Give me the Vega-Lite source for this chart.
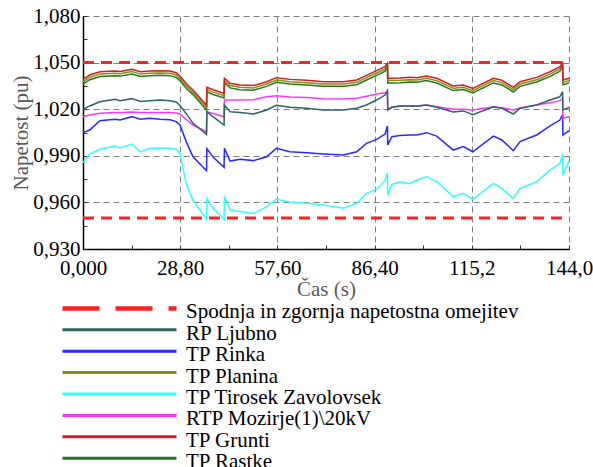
{
  "$schema": "https://vega.github.io/schema/vega-lite/v6.json",
  "width": 486,
  "height": 233,
  "autosize": {"type": "none"},
  "padding": {"left": 83, "top": 16, "right": 24, "bottom": 218},
  "background": "white",
  "config": {
    "view": {"stroke": null},
    "font": "Liberation Serif",
    "axis": {"labelFont": "Liberation Serif", "titleFont": "Liberation Serif"},
    "legend": {"labelFont": "Liberation Serif"}
  },
  "datasets": {
    "lim": [
      {"s": "Spodnja in zgornja napetostna omejitev", "g": "hi", "t": 0, "v": 1.05},
      {"s": "Spodnja in zgornja napetostna omejitev", "g": "hi", "t": 144, "v": 1.05},
      {"s": "Spodnja in zgornja napetostna omejitev", "g": "lo", "t": 0, "v": 0.95},
      {"s": "Spodnja in zgornja napetostna omejitev", "g": "lo", "t": 144, "v": 0.95}
    ],
    "ser": [
      {"s": "TP Tirosek Zavolovsek", "t": 0, "v": 0.9856},
      {"s": "TP Tirosek Zavolovsek", "t": 2, "v": 0.9912},
      {"s": "TP Tirosek Zavolovsek", "t": 5, "v": 0.9942},
      {"s": "TP Tirosek Zavolovsek", "t": 9.5, "v": 0.9963},
      {"s": "TP Tirosek Zavolovsek", "t": 11, "v": 0.995},
      {"s": "TP Tirosek Zavolovsek", "t": 14.5, "v": 0.9976},
      {"s": "TP Tirosek Zavolovsek", "t": 17, "v": 0.9925},
      {"s": "TP Tirosek Zavolovsek", "t": 19.8, "v": 0.9949},
      {"s": "TP Tirosek Zavolovsek", "t": 22.8, "v": 0.995},
      {"s": "TP Tirosek Zavolovsek", "t": 25.8, "v": 0.9949},
      {"s": "TP Tirosek Zavolovsek", "t": 27.6, "v": 0.9942},
      {"s": "TP Tirosek Zavolovsek", "t": 28.7, "v": 0.9916},
      {"s": "TP Tirosek Zavolovsek", "t": 30.7, "v": 0.971},
      {"s": "TP Tirosek Zavolovsek", "t": 32.6, "v": 0.9615},
      {"s": "TP Tirosek Zavolovsek", "t": 36.6, "v": 0.9491},
      {"s": "TP Tirosek Zavolovsek", "t": 36.7, "v": 0.9626},
      {"s": "TP Tirosek Zavolovsek", "t": 38.6, "v": 0.9562},
      {"s": "TP Tirosek Zavolovsek", "t": 41.8, "v": 0.9491},
      {"s": "TP Tirosek Zavolovsek", "t": 41.9, "v": 0.9637},
      {"s": "TP Tirosek Zavolovsek", "t": 43.6, "v": 0.9551},
      {"s": "TP Tirosek Zavolovsek", "t": 46.5, "v": 0.9541},
      {"s": "TP Tirosek Zavolovsek", "t": 50.5, "v": 0.9528},
      {"s": "TP Tirosek Zavolovsek", "t": 54.4, "v": 0.9573},
      {"s": "TP Tirosek Zavolovsek", "t": 57.3, "v": 0.9622},
      {"s": "TP Tirosek Zavolovsek", "t": 61.3, "v": 0.9602},
      {"s": "TP Tirosek Zavolovsek", "t": 66.3, "v": 0.9595},
      {"s": "TP Tirosek Zavolovsek", "t": 71.2, "v": 0.9583},
      {"s": "TP Tirosek Zavolovsek", "t": 77.1, "v": 0.9562},
      {"s": "TP Tirosek Zavolovsek", "t": 81.1, "v": 0.9594},
      {"s": "TP Tirosek Zavolovsek", "t": 84, "v": 0.9658},
      {"s": "TP Tirosek Zavolovsek", "t": 87, "v": 0.9685},
      {"s": "TP Tirosek Zavolovsek", "t": 89.5, "v": 0.974},
      {"s": "TP Tirosek Zavolovsek", "t": 90.2, "v": 0.9791},
      {"s": "TP Tirosek Zavolovsek", "t": 90.3, "v": 0.9648},
      {"s": "TP Tirosek Zavolovsek", "t": 91.5, "v": 0.9715},
      {"s": "TP Tirosek Zavolovsek", "t": 93.9, "v": 0.9733},
      {"s": "TP Tirosek Zavolovsek", "t": 96.9, "v": 0.972},
      {"s": "TP Tirosek Zavolovsek", "t": 98.9, "v": 0.9744},
      {"s": "TP Tirosek Zavolovsek", "t": 101.8, "v": 0.9765},
      {"s": "TP Tirosek Zavolovsek", "t": 104.8, "v": 0.9733},
      {"s": "TP Tirosek Zavolovsek", "t": 109.7, "v": 0.9637},
      {"s": "TP Tirosek Zavolovsek", "t": 112.7, "v": 0.9658},
      {"s": "TP Tirosek Zavolovsek", "t": 115.5, "v": 0.962},
      {"s": "TP Tirosek Zavolovsek", "t": 121.6, "v": 0.9723},
      {"s": "TP Tirosek Zavolovsek", "t": 124.1, "v": 0.969},
      {"s": "TP Tirosek Zavolovsek", "t": 127.5, "v": 0.9626},
      {"s": "TP Tirosek Zavolovsek", "t": 129.5, "v": 0.969},
      {"s": "TP Tirosek Zavolovsek", "t": 134.4, "v": 0.9733},
      {"s": "TP Tirosek Zavolovsek", "t": 138.4, "v": 0.9809},
      {"s": "TP Tirosek Zavolovsek", "t": 141.3, "v": 0.9852},
      {"s": "TP Tirosek Zavolovsek", "t": 142.1, "v": 0.9912},
      {"s": "TP Tirosek Zavolovsek", "t": 142.2, "v": 0.9776},
      {"s": "TP Tirosek Zavolovsek", "t": 144, "v": 0.9868},

      {"s": "TP Rinka", "t": 0, "v": 1.0049},
      {"s": "TP Rinka", "t": 2, "v": 1.0066},
      {"s": "TP Rinka", "t": 5, "v": 1.0126},
      {"s": "TP Rinka", "t": 9.5, "v": 1.0135},
      {"s": "TP Rinka", "t": 11, "v": 1.013},
      {"s": "TP Rinka", "t": 14.5, "v": 1.0152},
      {"s": "TP Rinka", "t": 17, "v": 1.0135},
      {"s": "TP Rinka", "t": 19.8, "v": 1.0141},
      {"s": "TP Rinka", "t": 22.8, "v": 1.0135},
      {"s": "TP Rinka", "t": 25.8, "v": 1.0132},
      {"s": "TP Rinka", "t": 27.6, "v": 1.012},
      {"s": "TP Rinka", "t": 28.7, "v": 1.01},
      {"s": "TP Rinka", "t": 30.7, "v": 0.9985},
      {"s": "TP Rinka", "t": 32.6, "v": 0.9894},
      {"s": "TP Rinka", "t": 36.6, "v": 0.9804},
      {"s": "TP Rinka", "t": 36.7, "v": 0.9945},
      {"s": "TP Rinka", "t": 38.6, "v": 0.989},
      {"s": "TP Rinka", "t": 41.8, "v": 0.9826},
      {"s": "TP Rinka", "t": 41.9, "v": 0.9948},
      {"s": "TP Rinka", "t": 43.6, "v": 0.9866},
      {"s": "TP Rinka", "t": 46.5, "v": 0.9877},
      {"s": "TP Rinka", "t": 50.5, "v": 0.9869},
      {"s": "TP Rinka", "t": 54.4, "v": 0.9894},
      {"s": "TP Rinka", "t": 57.3, "v": 0.9948},
      {"s": "TP Rinka", "t": 61.3, "v": 0.9926},
      {"s": "TP Rinka", "t": 66.3, "v": 0.992},
      {"s": "TP Rinka", "t": 71.2, "v": 0.9912},
      {"s": "TP Rinka", "t": 77.1, "v": 0.9905},
      {"s": "TP Rinka", "t": 81.1, "v": 0.9926},
      {"s": "TP Rinka", "t": 84, "v": 0.998},
      {"s": "TP Rinka", "t": 87, "v": 1.0006},
      {"s": "TP Rinka", "t": 89.5, "v": 1.004},
      {"s": "TP Rinka", "t": 90.2, "v": 1.0092},
      {"s": "TP Rinka", "t": 90.3, "v": 0.997},
      {"s": "TP Rinka", "t": 91.5, "v": 1.0023},
      {"s": "TP Rinka", "t": 93.9, "v": 1.003},
      {"s": "TP Rinka", "t": 96.9, "v": 1.0034},
      {"s": "TP Rinka", "t": 98.9, "v": 1.0034},
      {"s": "TP Rinka", "t": 101.8, "v": 1.0049},
      {"s": "TP Rinka", "t": 104.8, "v": 1.0027},
      {"s": "TP Rinka", "t": 109.7, "v": 0.9937},
      {"s": "TP Rinka", "t": 112.7, "v": 0.9959},
      {"s": "TP Rinka", "t": 115.5, "v": 0.9926},
      {"s": "TP Rinka", "t": 121.6, "v": 1.0027},
      {"s": "TP Rinka", "t": 124.1, "v": 1.0002},
      {"s": "TP Rinka", "t": 127.5, "v": 0.9933},
      {"s": "TP Rinka", "t": 129.5, "v": 0.9991},
      {"s": "TP Rinka", "t": 134.4, "v": 1.0034},
      {"s": "TP Rinka", "t": 138.4, "v": 1.0092},
      {"s": "TP Rinka", "t": 141.3, "v": 1.013},
      {"s": "TP Rinka", "t": 142.1, "v": 1.0165},
      {"s": "TP Rinka", "t": 142.2, "v": 1.0034},
      {"s": "TP Rinka", "t": 144, "v": 1.0062},

      {"s": "RTP Mozirje(1)\\20kV", "t": 0, "v": 1.0152},
      {"s": "RTP Mozirje(1)\\20kV", "t": 2, "v": 1.0163},
      {"s": "RTP Mozirje(1)\\20kV", "t": 5, "v": 1.0174},
      {"s": "RTP Mozirje(1)\\20kV", "t": 9.5, "v": 1.0178},
      {"s": "RTP Mozirje(1)\\20kV", "t": 11, "v": 1.0178},
      {"s": "RTP Mozirje(1)\\20kV", "t": 14.5, "v": 1.0182},
      {"s": "RTP Mozirje(1)\\20kV", "t": 17, "v": 1.0178},
      {"s": "RTP Mozirje(1)\\20kV", "t": 19.8, "v": 1.0178},
      {"s": "RTP Mozirje(1)\\20kV", "t": 22.8, "v": 1.0178},
      {"s": "RTP Mozirje(1)\\20kV", "t": 25.8, "v": 1.0178},
      {"s": "RTP Mozirje(1)\\20kV", "t": 27.6, "v": 1.0176},
      {"s": "RTP Mozirje(1)\\20kV", "t": 28.7, "v": 1.0169},
      {"s": "RTP Mozirje(1)\\20kV", "t": 30.7, "v": 1.0132},
      {"s": "RTP Mozirje(1)\\20kV", "t": 32.6, "v": 1.0098},
      {"s": "RTP Mozirje(1)\\20kV", "t": 36.6, "v": 1.0055},
      {"s": "RTP Mozirje(1)\\20kV", "t": 36.7, "v": 1.0184},
      {"s": "RTP Mozirje(1)\\20kV", "t": 38.6, "v": 1.0172},
      {"s": "RTP Mozirje(1)\\20kV", "t": 41.8, "v": 1.0152},
      {"s": "RTP Mozirje(1)\\20kV", "t": 41.9, "v": 1.0259},
      {"s": "RTP Mozirje(1)\\20kV", "t": 43.6, "v": 1.0259},
      {"s": "RTP Mozirje(1)\\20kV", "t": 46.5, "v": 1.0259},
      {"s": "RTP Mozirje(1)\\20kV", "t": 50.5, "v": 1.0261},
      {"s": "RTP Mozirje(1)\\20kV", "t": 54.4, "v": 1.028},
      {"s": "RTP Mozirje(1)\\20kV", "t": 57.3, "v": 1.0286},
      {"s": "RTP Mozirje(1)\\20kV", "t": 61.3, "v": 1.0278},
      {"s": "RTP Mozirje(1)\\20kV", "t": 66.3, "v": 1.0275},
      {"s": "RTP Mozirje(1)\\20kV", "t": 71.2, "v": 1.0268},
      {"s": "RTP Mozirje(1)\\20kV", "t": 77.1, "v": 1.0266},
      {"s": "RTP Mozirje(1)\\20kV", "t": 81.1, "v": 1.027},
      {"s": "RTP Mozirje(1)\\20kV", "t": 84, "v": 1.0284},
      {"s": "RTP Mozirje(1)\\20kV", "t": 87, "v": 1.0298},
      {"s": "RTP Mozirje(1)\\20kV", "t": 89.5, "v": 1.0306},
      {"s": "RTP Mozirje(1)\\20kV", "t": 90.2, "v": 1.0313},
      {"s": "RTP Mozirje(1)\\20kV", "t": 90.3, "v": 1.02},
      {"s": "RTP Mozirje(1)\\20kV", "t": 91.5, "v": 1.0212},
      {"s": "RTP Mozirje(1)\\20kV", "t": 93.9, "v": 1.0219},
      {"s": "RTP Mozirje(1)\\20kV", "t": 96.9, "v": 1.0221},
      {"s": "RTP Mozirje(1)\\20kV", "t": 98.9, "v": 1.0221},
      {"s": "RTP Mozirje(1)\\20kV", "t": 101.8, "v": 1.0227},
      {"s": "RTP Mozirje(1)\\20kV", "t": 104.8, "v": 1.0216},
      {"s": "RTP Mozirje(1)\\20kV", "t": 109.7, "v": 1.02},
      {"s": "RTP Mozirje(1)\\20kV", "t": 112.7, "v": 1.0199},
      {"s": "RTP Mozirje(1)\\20kV", "t": 115.5, "v": 1.0195},
      {"s": "RTP Mozirje(1)\\20kV", "t": 121.6, "v": 1.0216},
      {"s": "RTP Mozirje(1)\\20kV", "t": 124.1, "v": 1.021},
      {"s": "RTP Mozirje(1)\\20kV", "t": 127.5, "v": 1.0195},
      {"s": "RTP Mozirje(1)\\20kV", "t": 129.5, "v": 1.0208},
      {"s": "RTP Mozirje(1)\\20kV", "t": 134.4, "v": 1.0227},
      {"s": "RTP Mozirje(1)\\20kV", "t": 138.4, "v": 1.0242},
      {"s": "RTP Mozirje(1)\\20kV", "t": 141.3, "v": 1.0255},
      {"s": "RTP Mozirje(1)\\20kV", "t": 142.1, "v": 1.0268},
      {"s": "RTP Mozirje(1)\\20kV", "t": 142.2, "v": 1.0141},
      {"s": "RTP Mozirje(1)\\20kV", "t": 144, "v": 1.0152},

      {"s": "RP Ljubno", "t": 0, "v": 1.02},
      {"s": "RP Ljubno", "t": 2, "v": 1.0221},
      {"s": "RP Ljubno", "t": 5, "v": 1.0248},
      {"s": "RP Ljubno", "t": 9.5, "v": 1.0264},
      {"s": "RP Ljubno", "t": 11, "v": 1.0255},
      {"s": "RP Ljubno", "t": 14.5, "v": 1.0268},
      {"s": "RP Ljubno", "t": 17, "v": 1.025},
      {"s": "RP Ljubno", "t": 19.8, "v": 1.0255},
      {"s": "RP Ljubno", "t": 22.8, "v": 1.0259},
      {"s": "RP Ljubno", "t": 25.8, "v": 1.0255},
      {"s": "RP Ljubno", "t": 27.6, "v": 1.0246},
      {"s": "RP Ljubno", "t": 28.7, "v": 1.0225},
      {"s": "RP Ljubno", "t": 30.7, "v": 1.0168},
      {"s": "RP Ljubno", "t": 32.6, "v": 1.0109},
      {"s": "RP Ljubno", "t": 36.6, "v": 1.0038},
      {"s": "RP Ljubno", "t": 36.7, "v": 1.0184},
      {"s": "RP Ljubno", "t": 38.6, "v": 1.015},
      {"s": "RP Ljubno", "t": 41.8, "v": 1.0098},
      {"s": "RP Ljubno", "t": 41.9, "v": 1.0227},
      {"s": "RP Ljubno", "t": 43.6, "v": 1.0184},
      {"s": "RP Ljubno", "t": 46.5, "v": 1.0178},
      {"s": "RP Ljubno", "t": 50.5, "v": 1.0169},
      {"s": "RP Ljubno", "t": 54.4, "v": 1.0195},
      {"s": "RP Ljubno", "t": 57.3, "v": 1.0225},
      {"s": "RP Ljubno", "t": 61.3, "v": 1.0212},
      {"s": "RP Ljubno", "t": 66.3, "v": 1.0206},
      {"s": "RP Ljubno", "t": 71.2, "v": 1.0195},
      {"s": "RP Ljubno", "t": 77.1, "v": 1.0195},
      {"s": "RP Ljubno", "t": 81.1, "v": 1.0206},
      {"s": "RP Ljubno", "t": 84, "v": 1.0227},
      {"s": "RP Ljubno", "t": 87, "v": 1.0259},
      {"s": "RP Ljubno", "t": 89.5, "v": 1.0291},
      {"s": "RP Ljubno", "t": 90.2, "v": 1.0319},
      {"s": "RP Ljubno", "t": 90.3, "v": 1.0195},
      {"s": "RP Ljubno", "t": 91.5, "v": 1.0212},
      {"s": "RP Ljubno", "t": 93.9, "v": 1.0221},
      {"s": "RP Ljubno", "t": 96.9, "v": 1.0221},
      {"s": "RP Ljubno", "t": 98.9, "v": 1.0219},
      {"s": "RP Ljubno", "t": 101.8, "v": 1.0227},
      {"s": "RP Ljubno", "t": 104.8, "v": 1.0212},
      {"s": "RP Ljubno", "t": 109.7, "v": 1.0182},
      {"s": "RP Ljubno", "t": 112.7, "v": 1.0189},
      {"s": "RP Ljubno", "t": 115.5, "v": 1.0165},
      {"s": "RP Ljubno", "t": 121.6, "v": 1.0216},
      {"s": "RP Ljubno", "t": 124.1, "v": 1.0206},
      {"s": "RP Ljubno", "t": 127.5, "v": 1.0169},
      {"s": "RP Ljubno", "t": 129.5, "v": 1.0206},
      {"s": "RP Ljubno", "t": 134.4, "v": 1.0227},
      {"s": "RP Ljubno", "t": 138.4, "v": 1.0259},
      {"s": "RP Ljubno", "t": 141.3, "v": 1.028},
      {"s": "RP Ljubno", "t": 142.1, "v": 1.0313},
      {"s": "RP Ljubno", "t": 142.2, "v": 1.0195},
      {"s": "RP Ljubno", "t": 144, "v": 1.0212},

      {"s": "TP Rastke", "t": 0, "v": 1.0362},
      {"s": "TP Rastke", "t": 2, "v": 1.039},
      {"s": "TP Rastke", "t": 5, "v": 1.0411},
      {"s": "TP Rastke", "t": 9.5, "v": 1.0416},
      {"s": "TP Rastke", "t": 11, "v": 1.0413},
      {"s": "TP Rastke", "t": 14.5, "v": 1.0427},
      {"s": "TP Rastke", "t": 17, "v": 1.0411},
      {"s": "TP Rastke", "t": 19.8, "v": 1.0416},
      {"s": "TP Rastke", "t": 22.8, "v": 1.0418},
      {"s": "TP Rastke", "t": 25.8, "v": 1.0416},
      {"s": "TP Rastke", "t": 27.6, "v": 1.0405},
      {"s": "TP Rastke", "t": 28.7, "v": 1.0384},
      {"s": "TP Rastke", "t": 30.7, "v": 1.0332},
      {"s": "TP Rastke", "t": 32.6, "v": 1.0294},
      {"s": "TP Rastke", "t": 36.6, "v": 1.0195},
      {"s": "TP Rastke", "t": 36.7, "v": 1.0311},
      {"s": "TP Rastke", "t": 38.6, "v": 1.0295},
      {"s": "TP Rastke", "t": 41.8, "v": 1.0272},
      {"s": "TP Rastke", "t": 41.9, "v": 1.0369},
      {"s": "TP Rastke", "t": 43.6, "v": 1.0337},
      {"s": "TP Rastke", "t": 46.5, "v": 1.0326},
      {"s": "TP Rastke", "t": 50.5, "v": 1.0322},
      {"s": "TP Rastke", "t": 54.4, "v": 1.0347},
      {"s": "TP Rastke", "t": 57.3, "v": 1.0373},
      {"s": "TP Rastke", "t": 61.3, "v": 1.0362},
      {"s": "TP Rastke", "t": 66.3, "v": 1.0356},
      {"s": "TP Rastke", "t": 71.2, "v": 1.0347},
      {"s": "TP Rastke", "t": 77.1, "v": 1.0347},
      {"s": "TP Rastke", "t": 81.1, "v": 1.0358},
      {"s": "TP Rastke", "t": 84, "v": 1.0388},
      {"s": "TP Rastke", "t": 87, "v": 1.0418},
      {"s": "TP Rastke", "t": 89.5, "v": 1.0444},
      {"s": "TP Rastke", "t": 90.2, "v": 1.0483},
      {"s": "TP Rastke", "t": 90.3, "v": 1.0369},
      {"s": "TP Rastke", "t": 91.5, "v": 1.0369},
      {"s": "TP Rastke", "t": 93.9, "v": 1.0371},
      {"s": "TP Rastke", "t": 96.9, "v": 1.0375},
      {"s": "TP Rastke", "t": 98.9, "v": 1.0373},
      {"s": "TP Rastke", "t": 101.8, "v": 1.0384},
      {"s": "TP Rastke", "t": 104.8, "v": 1.0369},
      {"s": "TP Rastke", "t": 109.7, "v": 1.032},
      {"s": "TP Rastke", "t": 112.7, "v": 1.0326},
      {"s": "TP Rastke", "t": 115.5, "v": 1.0304},
      {"s": "TP Rastke", "t": 121.6, "v": 1.0369},
      {"s": "TP Rastke", "t": 124.1, "v": 1.0356},
      {"s": "TP Rastke", "t": 127.5, "v": 1.0311},
      {"s": "TP Rastke", "t": 129.5, "v": 1.0347},
      {"s": "TP Rastke", "t": 134.4, "v": 1.0375},
      {"s": "TP Rastke", "t": 138.4, "v": 1.0411},
      {"s": "TP Rastke", "t": 141.3, "v": 1.0444},
      {"s": "TP Rastke", "t": 142.1, "v": 1.0485},
      {"s": "TP Rastke", "t": 142.2, "v": 1.0358},
      {"s": "TP Rastke", "t": 144, "v": 1.0369},

      {"s": "TP Planina", "t": 0, "v": 1.0377},
      {"s": "TP Planina", "t": 2, "v": 1.0405},
      {"s": "TP Planina", "t": 5, "v": 1.0426},
      {"s": "TP Planina", "t": 9.5, "v": 1.0431},
      {"s": "TP Planina", "t": 11, "v": 1.0428},
      {"s": "TP Planina", "t": 14.5, "v": 1.0442},
      {"s": "TP Planina", "t": 17, "v": 1.0426},
      {"s": "TP Planina", "t": 19.8, "v": 1.0431},
      {"s": "TP Planina", "t": 22.8, "v": 1.0433},
      {"s": "TP Planina", "t": 25.8, "v": 1.0431},
      {"s": "TP Planina", "t": 27.6, "v": 1.042},
      {"s": "TP Planina", "t": 28.7, "v": 1.0399},
      {"s": "TP Planina", "t": 30.7, "v": 1.0347},
      {"s": "TP Planina", "t": 32.6, "v": 1.0309},
      {"s": "TP Planina", "t": 36.6, "v": 1.021},
      {"s": "TP Planina", "t": 36.7, "v": 1.0326},
      {"s": "TP Planina", "t": 38.6, "v": 1.031},
      {"s": "TP Planina", "t": 41.8, "v": 1.0287},
      {"s": "TP Planina", "t": 41.9, "v": 1.0384},
      {"s": "TP Planina", "t": 43.6, "v": 1.0352},
      {"s": "TP Planina", "t": 46.5, "v": 1.0341},
      {"s": "TP Planina", "t": 50.5, "v": 1.0337},
      {"s": "TP Planina", "t": 54.4, "v": 1.0362},
      {"s": "TP Planina", "t": 57.3, "v": 1.0388},
      {"s": "TP Planina", "t": 61.3, "v": 1.0377},
      {"s": "TP Planina", "t": 66.3, "v": 1.0371},
      {"s": "TP Planina", "t": 71.2, "v": 1.0362},
      {"s": "TP Planina", "t": 77.1, "v": 1.0362},
      {"s": "TP Planina", "t": 81.1, "v": 1.0373},
      {"s": "TP Planina", "t": 84, "v": 1.0403},
      {"s": "TP Planina", "t": 87, "v": 1.0433},
      {"s": "TP Planina", "t": 89.5, "v": 1.0459},
      {"s": "TP Planina", "t": 90.2, "v": 1.049},
      {"s": "TP Planina", "t": 90.3, "v": 1.0384},
      {"s": "TP Planina", "t": 91.5, "v": 1.0384},
      {"s": "TP Planina", "t": 93.9, "v": 1.0386},
      {"s": "TP Planina", "t": 96.9, "v": 1.039},
      {"s": "TP Planina", "t": 98.9, "v": 1.0388},
      {"s": "TP Planina", "t": 101.8, "v": 1.0399},
      {"s": "TP Planina", "t": 104.8, "v": 1.0384},
      {"s": "TP Planina", "t": 109.7, "v": 1.0335},
      {"s": "TP Planina", "t": 112.7, "v": 1.0341},
      {"s": "TP Planina", "t": 115.5, "v": 1.0319},
      {"s": "TP Planina", "t": 121.6, "v": 1.0384},
      {"s": "TP Planina", "t": 124.1, "v": 1.0371},
      {"s": "TP Planina", "t": 127.5, "v": 1.0326},
      {"s": "TP Planina", "t": 129.5, "v": 1.0362},
      {"s": "TP Planina", "t": 134.4, "v": 1.039},
      {"s": "TP Planina", "t": 138.4, "v": 1.0426},
      {"s": "TP Planina", "t": 141.3, "v": 1.0459},
      {"s": "TP Planina", "t": 142.1, "v": 1.0492},
      {"s": "TP Planina", "t": 142.2, "v": 1.0373},
      {"s": "TP Planina", "t": 144, "v": 1.0384},

      {"s": "TP Grunti", "t": 0, "v": 1.0392},
      {"s": "TP Grunti", "t": 2, "v": 1.042},
      {"s": "TP Grunti", "t": 5, "v": 1.0441},
      {"s": "TP Grunti", "t": 9.5, "v": 1.0446},
      {"s": "TP Grunti", "t": 11, "v": 1.0443},
      {"s": "TP Grunti", "t": 14.5, "v": 1.0457},
      {"s": "TP Grunti", "t": 17, "v": 1.0441},
      {"s": "TP Grunti", "t": 19.8, "v": 1.0446},
      {"s": "TP Grunti", "t": 22.8, "v": 1.0448},
      {"s": "TP Grunti", "t": 25.8, "v": 1.0446},
      {"s": "TP Grunti", "t": 27.6, "v": 1.0435},
      {"s": "TP Grunti", "t": 28.7, "v": 1.0414},
      {"s": "TP Grunti", "t": 30.7, "v": 1.0362},
      {"s": "TP Grunti", "t": 32.6, "v": 1.0324},
      {"s": "TP Grunti", "t": 36.6, "v": 1.0225},
      {"s": "TP Grunti", "t": 36.7, "v": 1.0341},
      {"s": "TP Grunti", "t": 38.6, "v": 1.0325},
      {"s": "TP Grunti", "t": 41.8, "v": 1.0302},
      {"s": "TP Grunti", "t": 41.9, "v": 1.0399},
      {"s": "TP Grunti", "t": 43.6, "v": 1.0367},
      {"s": "TP Grunti", "t": 46.5, "v": 1.0356},
      {"s": "TP Grunti", "t": 50.5, "v": 1.0352},
      {"s": "TP Grunti", "t": 54.4, "v": 1.0377},
      {"s": "TP Grunti", "t": 57.3, "v": 1.0403},
      {"s": "TP Grunti", "t": 61.3, "v": 1.0392},
      {"s": "TP Grunti", "t": 66.3, "v": 1.0386},
      {"s": "TP Grunti", "t": 71.2, "v": 1.0377},
      {"s": "TP Grunti", "t": 77.1, "v": 1.0377},
      {"s": "TP Grunti", "t": 81.1, "v": 1.0388},
      {"s": "TP Grunti", "t": 84, "v": 1.0418},
      {"s": "TP Grunti", "t": 87, "v": 1.0448},
      {"s": "TP Grunti", "t": 89.5, "v": 1.0474},
      {"s": "TP Grunti", "t": 90.2, "v": 1.0497},
      {"s": "TP Grunti", "t": 90.3, "v": 1.0399},
      {"s": "TP Grunti", "t": 91.5, "v": 1.0399},
      {"s": "TP Grunti", "t": 93.9, "v": 1.0401},
      {"s": "TP Grunti", "t": 96.9, "v": 1.0405},
      {"s": "TP Grunti", "t": 98.9, "v": 1.0403},
      {"s": "TP Grunti", "t": 101.8, "v": 1.0414},
      {"s": "TP Grunti", "t": 104.8, "v": 1.0399},
      {"s": "TP Grunti", "t": 109.7, "v": 1.035},
      {"s": "TP Grunti", "t": 112.7, "v": 1.0356},
      {"s": "TP Grunti", "t": 115.5, "v": 1.0334},
      {"s": "TP Grunti", "t": 121.6, "v": 1.0399},
      {"s": "TP Grunti", "t": 124.1, "v": 1.0386},
      {"s": "TP Grunti", "t": 127.5, "v": 1.0341},
      {"s": "TP Grunti", "t": 129.5, "v": 1.0377},
      {"s": "TP Grunti", "t": 134.4, "v": 1.0405},
      {"s": "TP Grunti", "t": 138.4, "v": 1.0441},
      {"s": "TP Grunti", "t": 141.3, "v": 1.0474},
      {"s": "TP Grunti", "t": 142.1, "v": 1.0499},
      {"s": "TP Grunti", "t": 142.2, "v": 1.0388},
      {"s": "TP Grunti", "t": 144, "v": 1.0399}
    ]
  },
  "resolve": {"axis": {"x": "independent", "y": "independent"}},
  "layer": [
    {
      "data": {"name": "lim"},
      "mark": {"type": "line", "strokeWidth": 3, "strokeDash": [11, 7], "clip": false},
      "encoding": {
        "x": {
          "field": "t", "type": "quantitative",
          "scale": {"domain": [0, 144], "nice": false, "zero": false},
          "axis": {"orient": "bottom", "values": [0, 14.4, 28.8, 43.2, 57.6, 72, 86.4, 100.8, 115.2, 129.6, 144], "grid": false, "labels": false, "domain": false, "ticks": true, "tickSize": -4, "tickColor": "#333333", "tickWidth": 1, "title": null}
        },
        "y": {
          "field": "v", "type": "quantitative",
          "scale": {"domain": [0.93, 1.08], "nice": false, "zero": false},
          "axis": {"orient": "left", "values": [0.93, 0.945, 0.96, 0.975, 0.99, 1.005, 1.02, 1.035, 1.05, 1.065, 1.08], "grid": false, "labels": false, "domain": false, "ticks": true, "tickSize": -4, "tickColor": "#333333", "tickWidth": 1, "title": null}
        },
        "detail": {"field": "g"},
        "color": {
          "field": "s", "type": "nominal",
          "scale": {
            "domain": ["Spodnja in zgornja napetostna omejitev", "RP Ljubno", "TP Rinka", "TP Planina", "TP Tirosek Zavolovsek", "RTP Mozirje(1)\\20kV", "TP Grunti", "TP Rastke"],
            "range": ["#ff2020", "#2e6464", "#2828ff", "#8c8c14", "#33ffff", "#ff33ff", "#cc1f1f", "#1e7a1e"]
          },
          "legend": {
            "orient": "none", "legendX": -26, "legendY": 286.4, "title": null,
            "padding": 0, "rowPadding": 0.4, "clipHeight": 20,
            "symbolType": "M-11.4,0H11.4", "symbolSize": 100, "symbolStrokeWidth": 3,
            "symbolOffset": 52, "labelOffset": 56,
            "labelFont": "Liberation Serif", "labelFontSize": 21, "labelColor": "#000000", "labelLimit": 0,
            "encode": {
              "symbols": {"update": {
                "y": {"value": 6},
                "strokeDash": {"signal": "datum.value === 'Spodnja in zgornja napetostna omejitev' ? [37, 16] : [1, 0]"},
                "strokeWidth": {"signal": "datum.value === 'Spodnja in zgornja napetostna omejitev' ? 4.5 : 3"}
              }},
              "labels": {"update": {"y": {"value": 10}, "baseline": {"value": "middle"}}}
            }
          }
        }
      }
    },
    {
      "data": {"name": "ser"},
      "mark": {"type": "line", "strokeWidth": 1.5},
      "encoding": {
        "x": {
          "field": "t", "type": "quantitative",
          "scale": {"domain": [0, 144], "nice": false, "zero": false},
          "axis": {
            "orient": "bottom", "values": [0, 28.8, 57.6, 86.4, 115.2, 144],
            "labelExpr": "datum.value == 0 ? '0,000' : replace(format(datum.value, '.4r'), '.', ',')",
            "grid": true, "gridColor": "#7f7f7f", "gridDash": [6, 4], "gridWidth": 1,
            "ticks": false, "domain": true, "domainColor": "#000000", "domainWidth": 1.5,
            "labelFont": "Liberation Serif", "labelFontSize": 21, "labelColor": "#000000", "labelPadding": 8, "labelFlush": false,
            "title": "Čas (s)", "titleFont": "Liberation Serif", "titleFontSize": 21, "titleFontWeight": "normal", "titleColor": "#5a5a5a",
            "titleBaseline": "middle", "titleY": 40
          }
        },
        "y": {
          "field": "v", "type": "quantitative",
          "scale": {"domain": [0.93, 1.08], "nice": false, "zero": false},
          "axis": {
            "orient": "left", "values": [0.93, 0.96, 0.99, 1.02, 1.05, 1.08],
            "labelExpr": "replace(format(datum.value, '.3f'), '.', ',')",
            "grid": true, "gridColor": "#7f7f7f", "gridDash": [6, 4], "gridWidth": 1,
            "ticks": false, "domain": true, "domainColor": "#000000", "domainWidth": 1.5,
            "labelFont": "Liberation Serif", "labelFontSize": 21, "labelColor": "#000000", "labelPadding": 3, "labelFlush": false,
            "title": "Napetost (pu)", "titleFont": "Liberation Serif", "titleFontSize": 21, "titleFontWeight": "normal", "titleColor": "#5a5a5a", "titlePadding": 1
          }
        },
        "color": {"field": "s", "type": "nominal"}
      }
    }
  ]
}
